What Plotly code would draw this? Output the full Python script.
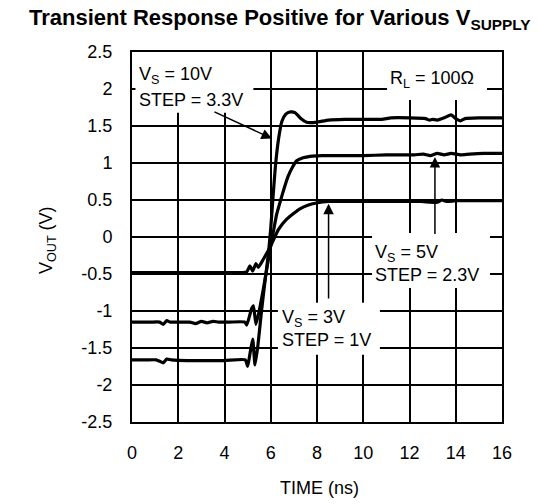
import plotly.graph_objects as go

# ---------------- data ----------------
time_10v = [0, 0.6, 1.05, 1.2, 1.35, 1.5, 1.7, 2.4, 3.2, 4.0, 4.9, 5.0, 5.1, 5.22, 5.32,
            5.45, 5.6, 5.75, 5.9, 6.0, 6.1, 6.2, 6.34, 6.48, 6.65, 6.85, 7.05, 7.3, 7.55,
            7.95, 8.5, 9.2, 10.0, 10.8, 11.2, 12.0, 12.7, 12.85, 13.0, 13.2, 13.5, 13.8,
            14.0, 14.2, 14.4, 15.0, 16.0]
vout_10v = [-1.66, -1.66, -1.66, -1.68, -1.70, -1.65, -1.66, -1.67, -1.67, -1.67, -1.66,
            -1.75, -1.58, -1.38, -1.73, -1.45, -1.0, -0.6, -0.22, 0.12, 0.55, 0.95, 1.33,
            1.56, 1.66, 1.69, 1.68, 1.60, 1.55, 1.55, 1.58, 1.59, 1.59, 1.59, 1.61, 1.61,
            1.60, 1.58, 1.59, 1.58, 1.61, 1.65, 1.60, 1.57, 1.60, 1.61, 1.61]

time_5v = [0, 0.8, 1.2, 1.35, 1.5, 1.65, 2.5, 2.75, 3.0, 3.25, 3.5, 3.75, 4.2, 4.88,
           4.96, 5.17, 5.25, 5.36, 5.5, 5.67, 5.82, 5.97, 6.1, 6.25, 6.43, 6.6, 6.75,
           6.95, 7.12, 7.4, 7.7, 8.2, 9.0, 10.0, 11.0, 12.2, 12.6, 12.9, 13.2, 13.5,
           13.8, 14.2, 14.6, 15.2, 16.0]
vout_5v = [-1.15, -1.15, -1.15, -1.18, -1.13, -1.15, -1.15, -1.17, -1.14, -1.16, -1.14,
           -1.15, -1.15, -1.15, -1.19, -0.97, -0.93, -1.18, -1.0, -0.72, -0.45, -0.17,
           0.05, 0.30, 0.50, 0.68, 0.82, 0.95, 1.03, 1.07, 1.09, 1.10, 1.10, 1.10, 1.11,
           1.11, 1.12, 1.10, 1.13, 1.11, 1.13, 1.11, 1.12, 1.13, 1.13]

time_3v = [0, 1.0, 2.0, 3.0, 4.0, 4.96, 5.1, 5.22, 5.36, 5.46, 5.68, 5.97, 6.33, 6.69,
           7.0, 7.26, 7.6, 7.98, 8.5, 9.5, 10.5, 11.5, 12.5, 13.2, 13.4, 13.6, 14.0,
           15.0, 16.0]
vout_3v = [-0.48, -0.48, -0.48, -0.48, -0.48, -0.47, -0.39, -0.46, -0.36, -0.41, -0.30,
           -0.14, 0.10, 0.24, 0.32, 0.38, 0.43, 0.46, 0.48, 0.48, 0.48, 0.48, 0.48,
           0.47, 0.50, 0.48, 0.49, 0.49, 0.49]

x_ticks = [0, 2, 4, 6, 8, 10, 12, 14, 16]
x_ticktext = ["0", "2", "4", "6", "8", "10", "12", "14", "16"]
y_ticks = [-2.5, -2, -1.5, -1, -0.5, 0, 0.5, 1, 1.5, 2, 2.5]
y_ticktext = ["-2.5", "-2", "-1.5", "-1", "-0.5", "0", "0.5", "1", "1.5", "2", "2.5"]

FONT = "Liberation Sans, Arial, sans-serif"

fig = go.Figure()
for t, v in [(time_10v, vout_10v), (time_5v, vout_5v), (time_3v, vout_3v)]:
    fig.add_trace(go.Scatter(x=t, y=v, mode="lines",
                             line=dict(color="black", width=3.2, shape="spline", smoothing=0.5),
                             showlegend=False, hoverinfo="skip"))

# white label boxes that hide the grid (between grid and traces)
boxes = [(0.15, 5.25, 1.68, 2.5), (11.03, 15.35, 1.85, 2.5),
         (10.38, 15.48, -0.69, 0.054), (6.31, 10.72, -1.59, -0.89)]
for x0, x1, y0, y1 in boxes:
    fig.add_shape(type="rect", xref="x", yref="y", x0=x0, x1=x1, y0=y0, y1=y1,
                  fillcolor="white", line=dict(width=0), layer="between")

# page offset: the html body adds an 8px margin around the figure
OFF = 8
W, H = 543 - OFF, 504 - OFF
PL, PR, PT, PB = 132, 502, 52, 422        # plot area in page pixels
L, R, T, B = PL - OFF, 543 - PR, PT - OFF, 504 - PB
pw, ph = PR - PL, PB - PT


def px(xp):
    return (xp - PL) / pw


def py(yp):
    return (PB - yp) / ph


def txt(text, x, y, size=18, xanchor="left", bold=False, angle=0):
    if bold:
        text = "<b>" + text + "</b>"
    fig.add_annotation(text=text, xref="paper", yref="paper", x=px(x), y=py(y),
                       xanchor=xanchor, yanchor="middle", showarrow=False,
                       textangle=angle, font=dict(family=FONT, size=size, color="black"))


txt("Transient Response Positive for Various V<sub>SUPPLY</sub>", 280, 19, size=22,
    xanchor="center", bold=True)
txt("TIME (ns)", 319, 488, xanchor="center")
txt("V<sub>OUT</sub> (V)", 48, 240, xanchor="center", angle=-90)

txt("V<sub>S</sub> = 10V", 137, 75)
txt("STEP = 3.3V", 137, 100)
txt("R<sub>L</sub> = 100Ω", 388, 79)
txt("V<sub>S</sub> = 5V", 373, 253)
txt("STEP = 2.3V", 373, 275)
txt("V<sub>S</sub> = 3V", 280, 318)
txt("STEP = 1V", 280, 340)

# arrows (tail -> tip)
arrows = [((3.5, 1.70), (6.05, 1.33)), ((13.1, 0.02), (13.1, 1.08)),
          ((8.5, -0.85), (8.5, 0.45))]
for (ax, ay), (x, y) in arrows:
    fig.add_annotation(x=x, y=y, ax=ax, ay=ay, xref="x", yref="y", axref="x", ayref="y",
                       text="", showarrow=True, arrowhead=2, arrowsize=1.4,
                       arrowwidth=1.5, arrowcolor="black", standoff=0, startstandoff=0)

axis_common = dict(showgrid=True, gridcolor="black", gridwidth=1.6, showline=True,
                   linecolor="black", linewidth=2, mirror=True, zeroline=False, ticks="",
                   tickfont=dict(family=FONT, size=18, color="black"))
fig.update_xaxes(range=[0, 16], tickvals=x_ticks, ticktext=x_ticktext,
                 ticklabelstandoff=13, **axis_common)
fig.update_yaxes(range=[-2.5, 2.5], tickvals=y_ticks, ticktext=y_ticktext,
                 ticklabelstandoff=14, **axis_common)

fig.update_layout(width=W, height=H, margin=dict(l=L, r=R, t=T, b=B),
                  plot_bgcolor="white", paper_bgcolor="white",
                  font=dict(family=FONT, color="black"))
fig.write_html("out.html")
